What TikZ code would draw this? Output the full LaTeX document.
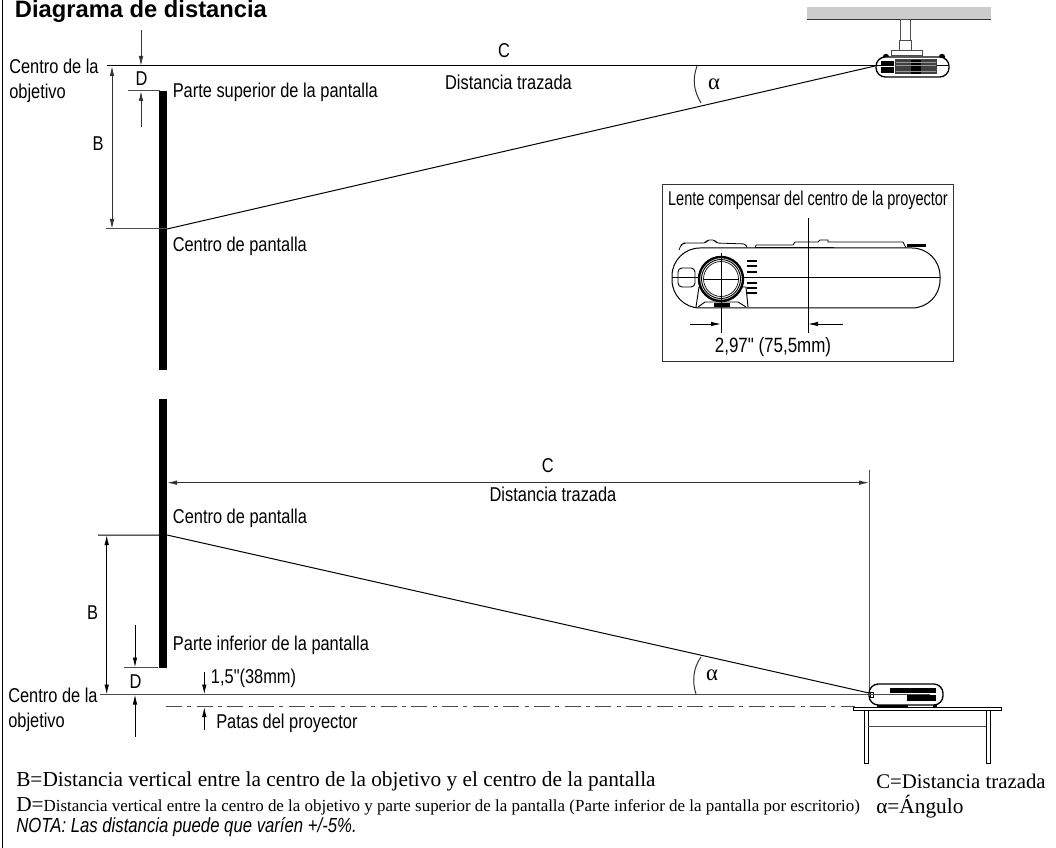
\documentclass[tikz,border=0pt]{standalone}
\usepackage{fontspec}
\setmainfont{Liberation Serif}
\newfontfamily\narrowfont[FakeStretch=0.82]{Liberation Sans}
\newfontfamily\insetfont[FakeStretch=0.725]{Liberation Sans}
\newfontfamily\headfont{Liberation Sans}
\usetikzlibrary{arrows.meta}
\tikzset{
  lbl/.style={inner sep=0pt,font=\narrowfont\fontsize{15}{16}\selectfont},
  ser/.style={inner sep=0pt,anchor=west,font=\fontsize{16}{18}\selectfont},
  dim/.style={line width=0.7pt,-{Latex[length=7.5pt,width=3.4pt]}},
  dimm/.style={line width=0.7pt,{Latex[length=7.5pt,width=3.4pt]}-{Latex[length=7.5pt,width=3.4pt]}},
  thin line/.style={line width=0.75pt},
  angle sym/.style={font=\fontsize{17}{18}\selectfont,inner sep=0pt},
}
\begin{document}
\begin{tikzpicture}[x=0.75pt,y=-0.75pt]
  \useasboundingbox (0,0) rectangle (1056,848);
  \draw[line width=0.8pt] (2.5,0) -- (2.5,848);

  % title
  \node[anchor=west,inner sep=0pt,font=\headfont\bfseries\fontsize{17.8}{20}\selectfont] (title) at (14.7,11) {Diagrama de distancia};

  % upper screen
  \coordinate (ucenter) at (875,66);
  \coordinate (utop) at (107,66);
  \coordinate (umid) at (167,229);
  \coordinate (umidl) at (106,229);
  \coordinate (umidb) at (112,229);
  \coordinate (utopb) at (112,66);
  \coordinate (dtl) at (128,91);
  \coordinate (dtr) at (160,91);
  \fill (159,91) rectangle (167,370);
  \draw[thin line] (utop) -- (ucenter);
  \draw[thin line] (ucenter) -- (umid);
  \draw[thin line,black!70] (umidl) -- (umid);
  \draw[thin line,black!70] (dtl) -- (dtr);
  \draw[dimm,black!80] (utopb) -- (umidb);
  \draw[dim,black!80] (141,30) -- (141,66);
  \draw[dim,black!80] (141,127.5) -- (141,91);
  \draw[thin line,black!80] (697,66) .. controls (692,80) and (694,91) .. (701,103);

  \node[lbl,anchor=west] (ucl) at (9,66) {Centro de la};
  \node[lbl,anchor=west] (uobj) at (9,93) {objetivo};
  \node[lbl] (ud) at (141.5,79) {D};
  \node[lbl] (ub) at (98,144) {B};
  \node[lbl,anchor=west] (usup) at (172.5,92) {Parte superior de la pantalla};
  \node[lbl,anchor=west] (umidt) at (172.5,246) {Centro de pantalla};
  \node[lbl] (uc) at (504,50.5) {C};
  \node[lbl] (utr) at (508.5,82) {Distancia trazada};
  \node[angle sym] (ua) at (714,84) {α};

  % ceiling projector
  \fill[black!20] (807,7) rectangle (991,19.5);
  \draw[line width=0.8pt,black!80] (807,19.5) -- (991,19.5);
  \draw[thin line,black!70] (900.7,20) rectangle (910,41);
  \draw[thin line,black!70] (899,41) rectangle (911,51);
  \draw[thin line,black!70] (891,51) rectangle (922,56);
  \fill (886,57) circle [radius=3.2];
  \fill (942,57) circle [radius=3.2];
  \draw[line width=1pt,fill=white,rounded corners=7pt] (876,57) rectangle (949,77);
  \fill (881,61) rectangle (894,73);
  \fill[black!75] (895,59) rectangle (937,74);
  \fill (911,60) rectangle (921,74);
  \foreach \yy in {62,65,71}{
    \draw[line width=0.4pt,black!40] (896,\yy) -- (936,\yy);
  }
  \draw[thin line,white] (881,67) -- (894,67);
  \draw[thin line] (937,66) -- (949,66);
  \draw[thin line] (ucenter) -- (881,66);

  % inset
  \draw[line width=0.75pt,black!80] (662,185) rectangle (953,362);
  \node[inner sep=0pt,font=\insetfont\fontsize{15}{16}\selectfont] (itl) at (808,200) {Lente compensar del centro de la proyector};
  \draw[line width=0.6pt,rounded corners=1.5pt] (679,250) -- (681,245) -- (684,243) -- (706,243) -- (707,240) -- (715,240) -- (716,243) -- (746,244) -- (747,248);
  \draw[line width=0.6pt] (755,248) -- (756,245) -- (793,245) -- (795,242) -- (818,242) -- (820,240) -- (828,240) -- (828,242) -- (903,242) -- (906,248);
  \draw[line width=0.6pt] (755,247) -- (834,247);
  \fill (907,244) rectangle (926,247);
  \draw[line width=0.75pt,fill=white,rounded corners=21pt] (672,248) rectangle (940,308);
  \draw[line width=0.75pt] (672,278) -- (940,278);
  \draw[line width=0.7pt,rounded corners=3pt] (678,268) rectangle (695,287);
  \draw[line width=0.7pt,fill=white] (696,307) -- (699,287) -- (746,287) -- (748,307);
  \draw[line width=0.7pt] (698,307) -- (705,302) -- (738,302) -- (746,307);
  \fill (714,303) rectangle (730,307);
  \draw[line width=1.8pt,fill=white] (721,279) circle [radius=22];
  \draw[line width=0.7pt] (721,279) circle [radius=19.5];
  \draw[line width=0.5pt] (721,279) circle [radius=17.5];
  \foreach \yy in {261,266,272,283,288,293}{
    \draw[line width=1.1pt] (747,\yy) -- (757,\yy);
  }
  \coordinate (ilt) at (721,253);
  \coordinate (ilb) at (721,333);
  \coordinate (ict) at (808,218);
  \coordinate (icb) at (808,333);
  \coordinate (ia) at (690,324);
  \coordinate (ib) at (843,324);
  \draw[line width=0.5pt] (ilt) -- (ilb);
  \draw[line width=0.5pt] (704,279) -- (738,279);
  \draw[line width=0.6pt] (ict) -- (icb);
  \draw[dim] (ia) -- (721,324);
  \draw[dim] (ib) -- (808,324);
  \node[inner sep=0pt,font=\narrowfont\fontsize{15.5}{16}\selectfont] (idim) at (773,347) {2,97" (75,5mm)};

  % lower screen
  \coordinate (lmid) at (167,535);
  \coordinate (lmidl) at (98,535);
  \coordinate (lbase) at (100,694.5);
  \coordinate (lend) at (869,693);
  \fill (159,399) rectangle (167,667.5);
  \draw[thin line] (lmidl) -- (lmid) -- (lend);
  \draw[line width=0.9pt,black!70] (lbase) -- (869,694.5);
  \draw[thin line,black!70] (869,470) -- (869,694.5);
  \draw[thin line,black!70] (124,667.5) -- (158,667.5);
  \draw[dimm,black!80] (167,482.7) -- (869,482.7);
  \draw[dimm] (106.7,535) -- (106.7,694.5);
  \draw[dim] (135,625) -- (135,667.5);
  \draw[dim] (135,736.5) -- (135,694.5);
  \draw[dim] (204.3,672) -- (204.3,694.5);
  \draw[dim] (204.3,730) -- (204.3,707);
  \draw[line width=0.8pt,black!70,dash pattern=on 12pt off 4pt on 3pt off 4pt] (166,706.7) -- (855,706.7);
  \draw[thin line,black!80] (701,657) .. controls (693,668) and (692,682) .. (696,694);

  \node[lbl,anchor=west] (lcl) at (8,695) {Centro de la};
  \node[lbl,anchor=west] (lobj) at (8,722) {objetivo};
  \node[lbl] (ld) at (135.5,681.5) {D};
  \node[lbl] (lb) at (92.7,612.5) {B};
  \node[lbl,anchor=west] (lmidt) at (172.7,518) {Centro de pantalla};
  \node[lbl,anchor=west] (linf) at (172.7,645) {Parte inferior de la pantalla};
  \node[lbl,anchor=west] (lin) at (210.7,678) {1,5"(38mm)};
  \node[lbl,anchor=west] (lpat) at (216,723) {Patas del proyector};
  \node[lbl] (lc) at (547.7,465.7) {C};
  \node[lbl] (ltr) at (553,494.5) {Distancia trazada};
  \node[angle sym] (la) at (712,675) {α};

  % table projector
  \draw[line width=1pt,fill=white,rounded corners=7pt] (869,684) rectangle (943,705);
  \fill (890,688) rectangle (936,693);
  \fill (907,695) rectangle (936,701);
  \draw[line width=0.6pt] (870,692) rectangle (873,697);
  \draw[thin line,black!70] (869,694) -- (930,694);
  \fill (877,705) rectangle (908,707);
  \fill (933,705) rectangle (937,707);
  \draw[line width=0.75pt] (853,707) rectangle (1001,710);
  \foreach \xx in {864,986}{
    \draw[line width=0.75pt] (\xx,710) -- (\xx,763) -- (\xx+4,763) -- (\xx+4,710);
  }
  \draw[thin line,black!70] (868,726) -- (986,726);

  % notes
  \node[ser] (nb) at (16,781) {B=Distancia vertical entre la centro de la objetivo y el centro de la pantalla};
  \node[ser] (nd) at (16,806.7) {D={\fontsize{12.7}{14}\selectfont Distancia vertical entre la centro de la objetivo y parte superior de la pantalla (Parte inferior de la pantalla por escritorio)}};
  \node[anchor=west,inner sep=0pt,font=\narrowfont\itshape\fontsize{15.3}{16}\selectfont] (nn) at (16,827) {NOTA: Las distancia puede que varíen +/-5\%.};
  \node[ser,font=\fontsize{15.6}{18}\selectfont] (nc) at (876,781) {C=Distancia trazada};
  \node[ser] (nag) at (876,806.7) {α=Ángulo};
\end{tikzpicture}
\end{document}
